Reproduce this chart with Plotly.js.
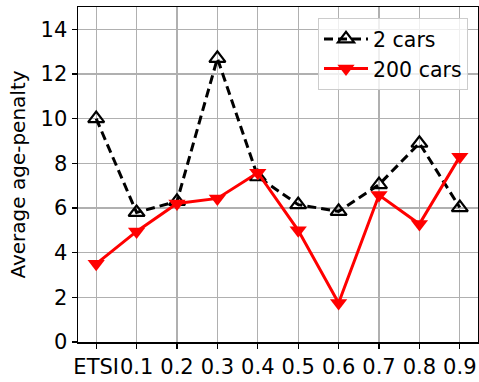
<!DOCTYPE html>
<html>
<head>
<meta charset="utf-8">
<script src="https://cdn.plot.ly/plotly-3.0.1.min.js"></script>
<style>html,body{margin:0;padding:0;background:#fff}#chart{width:479px;height:382px}</style>
</head>
<body>
<div id="chart"></div>
<script>
const categories = ["ETSI", "0.1", "0.2", "0.3", "0.4", "0.5", "0.6", "0.7", "0.8", "0.9"];
const cars2 = [10.0, 5.8, 6.3, 12.7, 7.4, 6.15, 5.85, 7.05, 8.9, 6.02];
const cars200 = [3.5, 4.95, 6.2, 6.43, 7.58, 5.0, 1.75, 6.58, 5.28, 8.3];
const yTicks = [0, 2, 4, 6, 8, 10, 12, 14];

const font = "DejaVu Sans, sans-serif";
const traces = [
  {x: categories, y: cars2, name: "2 cars", type: "scatter", mode: "lines+markers",
   line: {color: "black", width: 3, dash: "9px,5px"},
   marker: {symbol: "triangle-up-open", size: 14, color: "black", line: {width: 2.2, color: "black"}}},
  {x: categories, y: cars200, name: "200 cars", type: "scatter", mode: "lines+markers",
   line: {color: "red", width: 3},
   marker: {symbol: "triangle-down", size: 15, color: "red"}}
];
const layout = {
  width: 479, height: 382,
  margin: {l: 78, r: 1, t: 7, b: 40},
  paper_bgcolor: "white", plot_bgcolor: "white",
  font: {family: font, size: 21, color: "black"},
  showlegend: true,
  legend: {x: 0.975, y: 0.967, xanchor: "right", yanchor: "top",
           bgcolor: "rgba(255,255,255,0.8)", bordercolor: "#cccccc", borderwidth: 1,
           font: {family: font, size: 20.5}, tracegroupgap: 0, itemwidth: 44},
  xaxis: {type: "category", range: [-0.45, 9.45], showline: true, mirror: true,
          linecolor: "black", linewidth: 1.5, showgrid: true, gridcolor: "#b0b0b0", gridwidth: 1.2,
          ticks: "outside", ticklen: 5, tickcolor: "black", tickwidth: 1.2, tickangle: 0,
          tickfont: {family: font, size: 21}, zeroline: false},
  yaxis: {range: [0, 15], tickvals: yTicks, showline: true, mirror: true,
          linecolor: "black", linewidth: 1.5, showgrid: true, gridcolor: "#b0b0b0", gridwidth: 1.2,
          ticks: "outside", ticklen: 5, tickcolor: "black", tickwidth: 1.2,
          tickfont: {family: font, size: 21}, zeroline: false,
          title: {text: "Average age-penalty", font: {family: font, size: 20}, standoff: 9}}
};
Plotly.newPlot("chart", traces, layout, {displayModeBar: false, staticPlot: true});
</script>
</body>
</html>
